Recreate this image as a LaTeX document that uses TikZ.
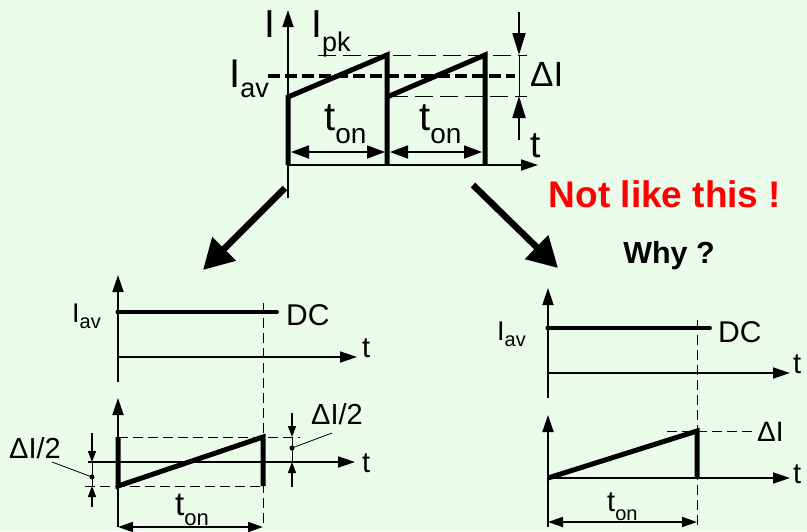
\documentclass[tikz,border=0pt]{standalone}
\usepackage{fontspec}
\setmainfont{Liberation Sans}
\usetikzlibrary{arrows.meta}
\definecolor{bgmint}{RGB}{234,251,234}
\newcommand{\fs}[1]{\fontsize{#1}{#1}\selectfont}
\newcommand{\lowtxt}[3]{\raisebox{-#2}{\fs{#1}#3}}

\begin{document}
\begin{tikzpicture}[x=1pt,y=-1pt,every node/.style={inner sep=0pt},
  axis/.style={line width=1.8pt,-{Triangle[length=17pt,width=11pt]}},
  wave/.style={line width=5pt},
  guide/.style={line width=1pt,dash pattern=on 10pt off 5pt},
  span/.style={line width=1.8pt,{Triangle[length=15pt,width=10pt]}-{Triangle[length=15pt,width=10pt]}},
  tick/.style={line width=1.5pt,-{Triangle[length=11pt,width=8pt]}},
  big/.style={line width=6.5pt,-{Triangle[length=30pt,width=32pt]}}]
  \fill[bgmint] (0,0) rectangle (807,531);
  \useasboundingbox (0,0) rectangle (807,531);
  % top: pulsed current
  \coordinate (O) at (288,165);
  \draw[axis] (288,198)--(288,10);
  \draw[axis] (O)--(538,165);
  \draw[line width=1pt,dash pattern=on 18pt off 7pt] (318,55)--(527,55);
  \draw[line width=1pt,dash pattern=on 18pt off 7pt] (390,96)--(527,96);
  \draw[line width=4pt,dash pattern=on 12pt off 5pt] (268,76)--(515,76);
  \draw[wave] (O)--(288,97)--(387,55)--(387,165);
  \draw[wave] (387,97)--(485,55)--(485,165);
  \draw[span,{Triangle[length=18pt,width=13pt]}-{Triangle[length=18pt,width=13pt]}] (291,152)--(385,152);
  \draw[span,{Triangle[length=18pt,width=13pt]}-{Triangle[length=18pt,width=13pt]}] (390,152)--(482,152);
  \draw[line width=2pt,-{Triangle[length=22pt,width=13pt]}] (519,12)--(519,55);
  \draw[line width=2pt,-{Triangle[length=22pt,width=13pt]}] (519,140)--(519,96);
  \draw[line width=1pt] (519,55)--(519,96);
  \node[anchor=base west] (I) at (264,37) {\fs{39}I};
  \node[anchor=base west] (Ipk) at (311,37) {\fs{39}I\lowtxt{27}{14pt}{pk}};
  \node[anchor=base west] (Iav) at (229,87) {\fs{40}I\lowtxt{27}{10pt}{av}};
  \node[anchor=base west] (ton1) at (324,130) {\fs{40}t\lowtxt{28}{13pt}{on}};
  \node[anchor=base west] (ton2) at (419,130) {\fs{40}t\lowtxt{28}{13pt}{on}};
  \node[anchor=base west] (dI) at (530,86) {\fs{35}ΔI};
  \node[anchor=base west] (t) at (530,157) {\fs{37}t};
  % the two ways
  \draw[big] (285,188)--(203,270);
  \draw[big] (473,185)--(558,268);
  \node[red] (no) at (665,194) {\fs{37}\bfseries Not like this !};
  \node (why) at (669,256) {\fs{30.5}\bfseries Why ?};
  % bottom left: DC plus ripple
  \draw[axis] (118,382)--(118,275);
  \draw[axis] (118,357)--(357,357);
  \draw[line width=4pt,line cap=round] (118,312)--(277,312);
  \fill (118,312) circle(2.5);
  \draw[guide] (263,303)--(263,527);
  \node[anchor=base west] (Iav1) at (72,322) {\fs{27}I\lowtxt{20}{6pt}{av}};
  \node[anchor=base west] (DC1) at (286,325) {\fs{30}DC};
  \node[anchor=base west] (t1) at (362,357) {\fs{29}t};
  \draw[axis] (118,527)--(118,398);
  \draw[axis] (88,462)--(355,462);
  \draw[guide] (118,437)--(300,437);
  \draw[guide] (85,486)--(263,486);
  \draw[wave] (118,437)--(118,486)--(263,437)--(263,486);
  \draw[tick] (92,433)--(92,462);
  \draw[tick] (92,507)--(92,486);
  \draw[line width=1pt] (92,462)--(92,486);
  \fill (92,477) circle(2.5);
  \draw[line width=0.8pt] (92,477)--(52,462);
  \node[anchor=base west] (hl) at (9,458) {\fs{29}ΔI/2};
  \draw[tick] (292,413)--(292,437);
  \draw[tick] (292,487)--(292,462);
  \draw[line width=1pt] (292,437)--(292,462);
  \fill (292,448) circle(2.5);
  \draw[line width=0.8pt] (292,448)--(332,433);
  \node[anchor=base west] (hr) at (311,424) {\fs{29}ΔI/2};
  \node[anchor=base west] (t2) at (362,472) {\fs{29}t};
  \draw[span] (118,527)--(263,527);
  \node[anchor=base west] (ton3) at (175,515) {\fs{33}t\lowtxt{22}{10pt}{on}};
  % bottom right: DC plus sawtooth
  \draw[axis] (548,398)--(548,288);
  \draw[axis] (548,373)--(790,373);
  \draw[line width=4pt,line cap=round] (548,328)--(710,328);
  \fill (548,328) circle(2.5);
  \draw[guide] (697,320)--(697,527);
  \node[anchor=base west] (Iav2) at (497,340) {\fs{27}I\lowtxt{20}{6pt}{av}};
  \node[anchor=base west] (DC2) at (718,342) {\fs{30}DC};
  \node[anchor=base west] (t3) at (793,373) {\fs{29}t};
  \draw[axis] (548,527)--(548,415);
  \draw[axis] (548,478)--(790,478);
  \draw[wave] (548,478)--(697,431)--(697,478);
  \draw[guide] (667,431)--(755,431);
  \node[anchor=base west] (dI2) at (757,441) {\fs{28}ΔI};
  \node[anchor=base west] (t4) at (793,483) {\fs{29}t};
  \draw[span] (548,522)--(697,522);
  \node[anchor=base west] (ton4) at (607,511) {\fs{29}t\lowtxt{20}{9pt}{on}};
\end{tikzpicture}
\end{document}
